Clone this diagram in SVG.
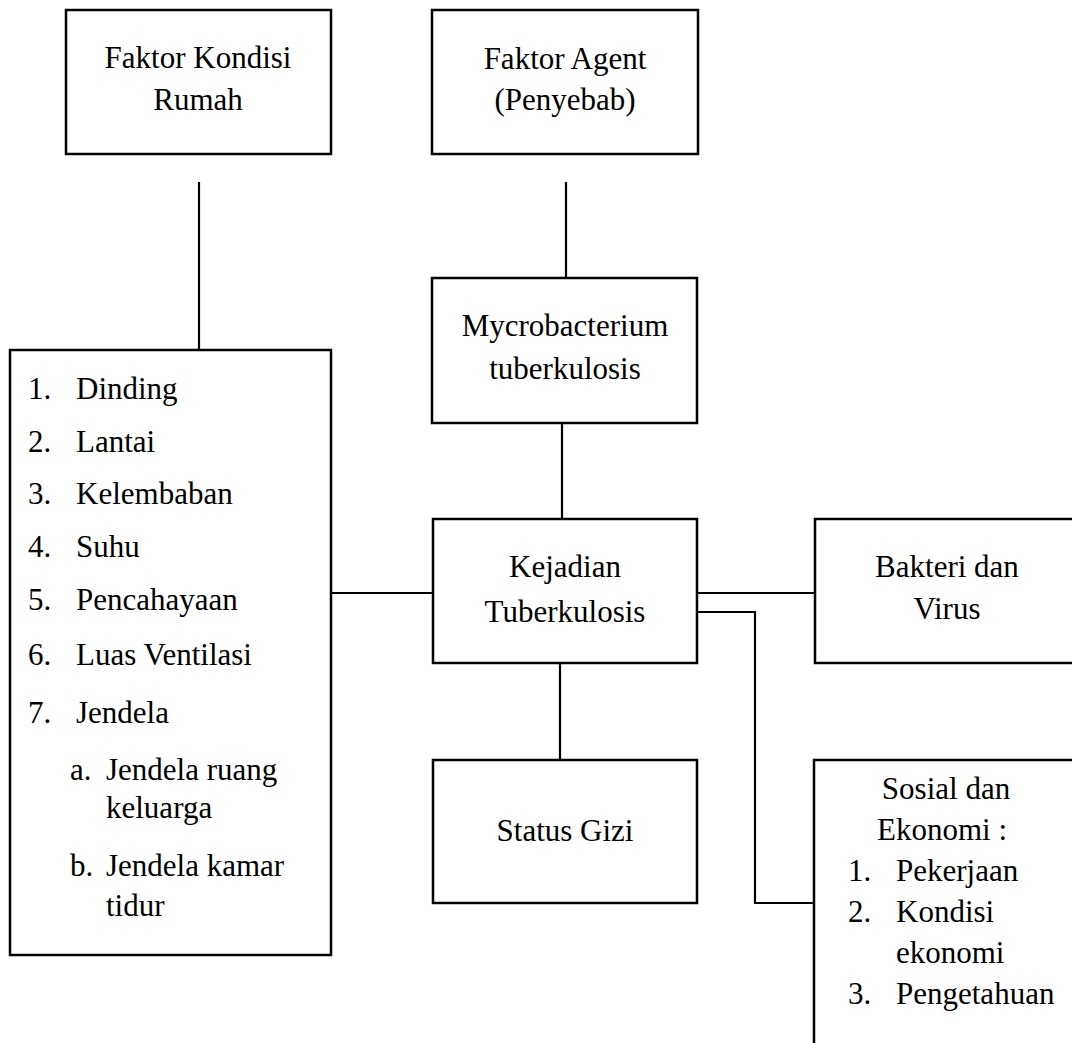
<svg xmlns="http://www.w3.org/2000/svg" width="1072" height="1043" viewBox="0 0 1072 1043">
<style>
  .box { fill: #fff; stroke: #000; stroke-width: 2.5; }
  .conn { fill: none; stroke: #000; stroke-width: 2.2; }
  text { font-family: "Liberation Serif", "Times New Roman", serif; font-size: 31px; fill: #000; }
  .c { text-anchor: middle; }
</style>
<rect width="1072" height="1043" fill="#fff"/>
<g id="connectors">
  <line class="conn" x1="199" y1="182" x2="199" y2="350"/>
  <line class="conn" x1="566" y1="182" x2="566" y2="278"/>
  <line class="conn" x1="562" y1="423" x2="562" y2="519"/>
  <line class="conn" x1="560" y1="663" x2="560" y2="760"/>
  <line class="conn" x1="331" y1="593" x2="433" y2="593"/>
  <line class="conn" x1="697" y1="593" x2="815" y2="593"/>
  <polyline class="conn" points="697,612 755,612 755,903 815,903"/>
</g>
<g id="faktor-kondisi-rumah">
  <rect class="box" x="66" y="10" width="265" height="144"/>
  <text class="c" x="198" y="68">Faktor Kondisi</text>
  <text class="c" x="198" y="110">Rumah</text>
</g>
<g id="faktor-agent">
  <rect class="box" x="432" y="10" width="266" height="144"/>
  <text class="c" x="565" y="69">Faktor Agent</text>
  <text class="c" x="565" y="110">(Penyebab)</text>
</g>
<g id="mycrobacterium">
  <rect class="box" x="432" y="278" width="265" height="145"/>
  <text class="c" x="565" y="336">Mycrobacterium</text>
  <text class="c" x="565" y="379">tuberkulosis</text>
</g>
<g id="kejadian-tuberkulosis">
  <rect class="box" x="433" y="519" width="264" height="144"/>
  <text class="c" x="565" y="577">Kejadian</text>
  <text class="c" x="565" y="622">Tuberkulosis</text>
</g>
<g id="status-gizi">
  <rect class="box" x="433" y="760" width="264" height="143"/>
  <text class="c" x="565" y="841">Status Gizi</text>
</g>
<g id="kondisi-rumah-list">
  <rect class="box" x="10" y="350" width="321" height="605"/>
  <text x="28" y="399">1.</text><text x="76" y="399">Dinding</text>
  <text x="28" y="452">2.</text><text x="76" y="452">Lantai</text>
  <text x="28" y="504">3.</text><text x="76" y="504">Kelembaban</text>
  <text x="28" y="557">4.</text><text x="76" y="557">Suhu</text>
  <text x="28" y="610">5.</text><text x="76" y="610">Pencahayaan</text>
  <text x="28" y="665">6.</text><text x="76" y="665">Luas Ventilasi</text>
  <text x="28" y="723">7.</text><text x="76" y="723">Jendela</text>
  <text x="70" y="780">a.</text><text x="106" y="780">Jendela ruang</text>
  <text x="106" y="818">keluarga</text>
  <text x="70" y="876">b.</text><text x="106" y="876">Jendela kamar</text>
  <text x="106" y="916">tidur</text>
</g>
<g id="bakteri-virus">
  <rect class="box" x="815" y="519" width="263" height="144"/>
  <text class="c" x="947" y="577">Bakteri dan</text>
  <text class="c" x="947" y="619">Virus</text>
</g>
<g id="sosial-ekonomi">
  <rect class="box" x="814" y="760" width="264" height="300"/>
  <text class="c" x="946" y="799">Sosial dan</text>
  <text class="c" x="942" y="840">Ekonomi :</text>
  <text x="848" y="881">1.</text><text x="896" y="881">Pekerjaan</text>
  <text x="848" y="922">2.</text><text x="896" y="922">Kondisi</text>
  <text x="896" y="963">ekonomi</text>
  <text x="848" y="1004">3.</text><text x="896" y="1004">Pengetahuan</text>
</g>
</svg>
